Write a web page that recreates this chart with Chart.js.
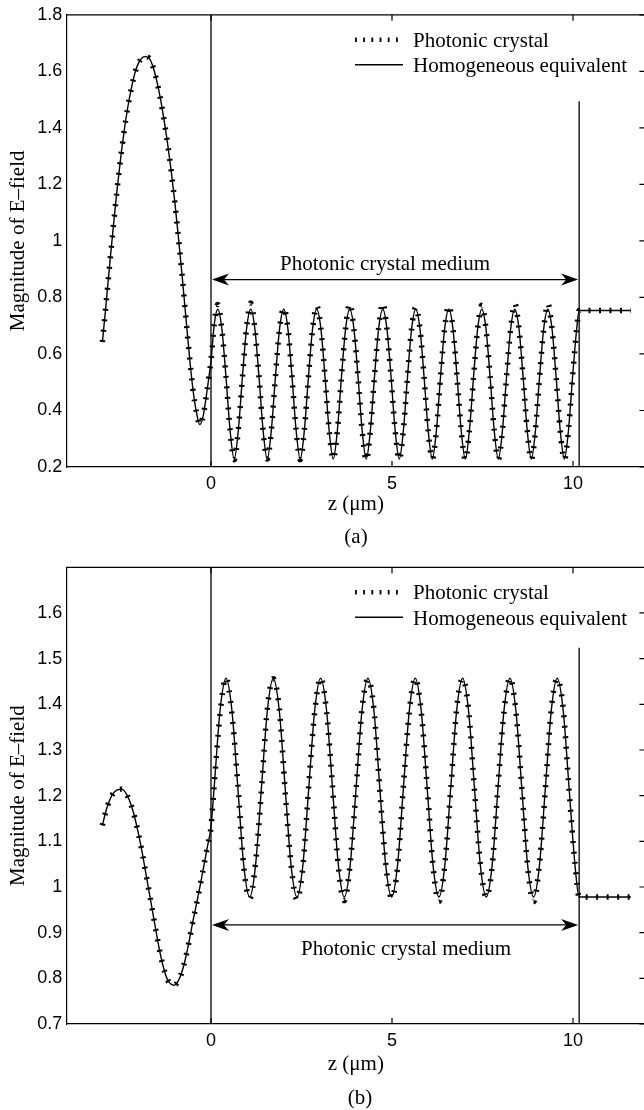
<!doctype html>
<html lang="en">
<head>
<meta charset="utf-8">
<script src="https://cdn.jsdelivr.net/npm/chart.js"></script>
<style>
  html, body { margin: 0; padding: 0; background: #fff; overflow: hidden; }
  canvas { display: block; }
</style>
</head>
<body>
<canvas id="chartA" width="648" height="552"></canvas>
<canvas id="chartB" width="648" height="558"></canvas>

<script>
  const SERIF = '"Liberation Serif", "Times New Roman", Times, serif';
  const SANS = '"Liberation Sans", Arial, Helvetica, sans-serif';

  // slab faces (um)
  const slabEdges = [0, 10.17];
  const xTicks = [0, 5, 10];

  // ---- (a) ----
  const zA = [
    -3.0, -2.9, -2.8, -2.7, -2.6, -2.5, -2.4, -2.3, -2.2, -2.1, -2.0, -1.9, -1.82, -1.7, -1.6, -1.5,
    -1.4, -1.3, -1.2, -1.1, -1.0, -0.9, -0.8, -0.7, -0.6, -0.5, -0.4, -0.31, -0.22, -0.12, -0.05,
    0, 0.09,
    0.185, 0.299, 0.413, 0.527, 0.641, 0.755, 0.869, 0.983,
    1.097, 1.211, 1.325, 1.439, 1.553, 1.667, 1.781, 1.895,
    2.009, 2.123, 2.237, 2.351, 2.465, 2.579, 2.693, 2.807,
    2.921, 3.035, 3.149, 3.263, 3.377, 3.491, 3.605, 3.719,
    3.833, 3.947, 4.061, 4.175, 4.289, 4.403, 4.517, 4.631,
    4.745, 4.859, 4.973, 5.087, 5.201, 5.315, 5.429, 5.543,
    5.657, 5.771, 5.885, 5.999, 6.113, 6.227, 6.341, 6.455,
    6.569, 6.683, 6.797, 6.911, 7.025, 7.139, 7.253, 7.367,
    7.481, 7.595, 7.709, 7.823, 7.937, 8.051, 8.165, 8.279,
    8.393, 8.507, 8.621, 8.735, 8.849, 8.963, 9.077, 9.191,
    9.305, 9.419, 9.533, 9.647, 9.761, 9.875, 9.989, 10.103,
    10.17, 11.6
  ];
  const homogA = [
    0.642, 0.775, 0.915, 1.048, 1.175, 1.288, 1.388, 1.472, 1.540, 1.595, 1.630, 1.648, 1.652, 1.645, 1.615, 1.567,
    1.505, 1.430, 1.345, 1.248, 1.138, 1.012, 0.880, 0.738, 0.598, 0.476, 0.392, 0.350, 0.378, 0.460, 0.525,
    0.575, 0.705,
    0.758, 0.690, 0.520, 0.330, 0.228, 0.330, 0.520, 0.690,
    0.758, 0.690, 0.520, 0.330, 0.228, 0.330, 0.520, 0.690,
    0.758, 0.690, 0.520, 0.330, 0.228, 0.330, 0.520, 0.690,
    0.758, 0.690, 0.520, 0.330, 0.228, 0.330, 0.520, 0.690,
    0.758, 0.690, 0.520, 0.330, 0.228, 0.330, 0.520, 0.690,
    0.758, 0.690, 0.520, 0.330, 0.228, 0.330, 0.520, 0.690,
    0.758, 0.690, 0.520, 0.330, 0.228, 0.330, 0.520, 0.690,
    0.758, 0.690, 0.520, 0.330, 0.228, 0.330, 0.520, 0.690,
    0.758, 0.690, 0.520, 0.330, 0.228, 0.330, 0.520, 0.690,
    0.758, 0.690, 0.520, 0.330, 0.228, 0.330, 0.520, 0.690,
    0.758, 0.690, 0.520, 0.330, 0.228, 0.330, 0.520, 0.690,
    0.754, 0.754
  ];
  const crystalA = [
    0.642, 0.775, 0.915, 1.048, 1.175, 1.288, 1.388, 1.472, 1.540, 1.595, 1.630, 1.648, 1.652, 1.645, 1.615, 1.567,
    1.505, 1.430, 1.345, 1.248, 1.138, 1.012, 0.880, 0.738, 0.598, 0.476, 0.392, 0.350, 0.378, 0.460, 0.525,
    0.575, 0.705,
    0.775, 0.688, 0.522, 0.330, 0.226, 0.332, 0.518, 0.692,
    0.780, 0.690, 0.520, 0.328, 0.228, 0.330, 0.522, 0.690,
    0.762, 0.692, 0.518, 0.330, 0.226, 0.330, 0.520, 0.688,
    0.770, 0.690, 0.520, 0.332, 0.228, 0.328, 0.520, 0.690,
    0.778, 0.688, 0.520, 0.330, 0.224, 0.330, 0.522, 0.690,
    0.780, 0.690, 0.518, 0.330, 0.226, 0.332, 0.520, 0.692,
    0.765, 0.690, 0.520, 0.328, 0.228, 0.330, 0.520, 0.690,
    0.770, 0.692, 0.520, 0.330, 0.226, 0.330, 0.518, 0.690,
    0.772, 0.690, 0.522, 0.330, 0.228, 0.330, 0.520, 0.690,
    0.778, 0.690, 0.520, 0.332, 0.226, 0.330, 0.520, 0.688,
    0.778, 0.690, 0.520, 0.330, 0.226, 0.330, 0.520, 0.690,
    0.754, 0.754
  ];
  const yTicksA = [0.2, 0.4, 0.6, 0.8, 1, 1.2, 1.4, 1.6, 1.8];

  // ---- (b) ----
  const zB = [
    -3.0, -2.9, -2.8, -2.7, -2.6, -2.47, -2.4, -2.3, -2.2, -2.1, -2.0, -1.9, -1.8, -1.7, -1.6,
    -1.5, -1.4, -1.3, -1.2, -1.1, -1.02, -0.9, -0.8, -0.7, -0.6, -0.5, -0.4, -0.3, -0.2, -0.1,
    0, 0.087, 0.251,
    0.414, 0.577, 0.741, 0.904, 1.068, 1.231, 1.394, 1.558,
    1.721, 1.885, 2.048, 2.211, 2.375, 2.538, 2.702, 2.865,
    3.028, 3.192, 3.355, 3.519, 3.682, 3.845, 4.009, 4.172,
    4.336, 4.499, 4.662, 4.826, 4.989, 5.153, 5.316, 5.479,
    5.643, 5.806, 5.970, 6.133, 6.296, 6.460, 6.623, 6.787,
    6.950, 7.113, 7.277, 7.440, 7.604, 7.767, 7.930, 8.094,
    8.257, 8.421, 8.584, 8.747, 8.911, 9.074, 9.238, 9.401,
    9.564, 9.728, 9.891, 10.055,
    10.17, 11.6
  ];
  const homogB = [
    1.135, 1.167, 1.190, 1.205, 1.212, 1.214, 1.211, 1.198, 1.178, 1.150, 1.115, 1.075, 1.030, 0.985, 0.940,
    0.895, 0.853, 0.820, 0.797, 0.787, 0.785, 0.795, 0.815, 0.845, 0.883, 0.925, 0.963, 1.003, 1.045, 1.088,
    1.132, 1.218, 1.387,
    1.457, 1.387, 1.218, 1.048, 0.978, 1.048, 1.218, 1.387,
    1.457, 1.387, 1.218, 1.048, 0.978, 1.048, 1.218, 1.387,
    1.457, 1.387, 1.218, 1.048, 0.978, 1.048, 1.218, 1.387,
    1.457, 1.387, 1.218, 1.048, 0.978, 1.048, 1.218, 1.387,
    1.457, 1.387, 1.218, 1.048, 0.978, 1.048, 1.218, 1.387,
    1.457, 1.387, 1.218, 1.048, 0.978, 1.048, 1.218, 1.387,
    1.457, 1.387, 1.218, 1.048, 0.978, 1.048, 1.218, 1.387,
    1.457, 1.387, 1.218, 1.048,
    0.978, 0.978
  ];
  const crystalB = [
    1.135, 1.167, 1.190, 1.205, 1.212, 1.214, 1.211, 1.198, 1.178, 1.150, 1.115, 1.075, 1.030, 0.985, 0.940,
    0.895, 0.853, 0.820, 0.797, 0.787, 0.785, 0.795, 0.815, 0.845, 0.883, 0.925, 0.963, 1.003, 1.045, 1.088,
    1.132, 1.222, 1.380,
    1.458, 1.380, 1.225, 1.045, 0.975, 1.052, 1.212, 1.392,
    1.456, 1.392, 1.210, 1.050, 0.972, 1.045, 1.224, 1.383,
    1.458, 1.385, 1.222, 1.044, 0.970, 1.052, 1.215, 1.390,
    1.455, 1.390, 1.214, 1.052, 0.976, 1.044, 1.222, 1.385,
    1.457, 1.384, 1.222, 1.046, 0.968, 1.050, 1.214, 1.391,
    1.456, 1.391, 1.213, 1.051, 0.978, 1.045, 1.223, 1.384,
    1.458, 1.386, 1.220, 1.045, 0.968, 1.052, 1.214, 1.390,
    1.456, 1.392, 1.212, 1.052,
    0.978, 0.978
  ];
  const yTicksB = [0.7, 0.8, 0.9, 1, 1.1, 1.2, 1.3, 1.4, 1.5, 1.6];

  function pairs(xs, ys) {
    return xs.map((v, i) => ({ x: v, y: ys[i] }));
  }

  // box edges, inward ticks, double arrow, captions and the legend
  const decorPlugin = {
    id: 'decor',
    afterDraw(chart, args, o) {
      const { ctx, chartArea: a, scales: { x, y } } = chart;
      ctx.save();
      ctx.strokeStyle = '#000';
      ctx.fillStyle = '#000';
      ctx.lineWidth = 1.2;
      ctx.beginPath();
      ctx.moveTo(a.left, a.top);
      ctx.lineTo(a.right, a.top);
      ctx.lineTo(a.right, a.bottom);
      ctx.stroke();

      const tl = 6;
      ctx.beginPath();
      x.ticks.forEach(t => {
        const px = x.getPixelForValue(t.value);
        ctx.moveTo(px, a.bottom); ctx.lineTo(px, a.bottom - tl);
        ctx.moveTo(px, a.top); ctx.lineTo(px, a.top + tl);
      });
      y.ticks.forEach(t => {
        const py = y.getPixelForValue(t.value);
        ctx.moveTo(a.right, py); ctx.lineTo(a.right - tl, py);
      });
      ctx.stroke();

      // double arrow across the slab
      const ay = y.getPixelForValue(o.arrowY);
      const x0 = x.getPixelForValue(slabEdges[0]) + 1;
      const x1 = x.getPixelForValue(slabEdges[1]) - 1;
      ctx.lineWidth = 1.2;
      ctx.beginPath();
      ctx.moveTo(x0 + 10, ay); ctx.lineTo(x1 - 10, ay);
      ctx.stroke();
      const head = (tip, dir) => {
        ctx.beginPath();
        ctx.moveTo(tip, ay);
        ctx.lineTo(tip - dir * 17, ay - 6);
        ctx.lineTo(tip - dir * 12, ay);
        ctx.lineTo(tip - dir * 17, ay + 6);
        ctx.closePath();
        ctx.fill();
      };
      head(x0, -1);
      head(x1, 1);

      ctx.font = '21px ' + SERIF;
      ctx.textAlign = 'center';
      ctx.textBaseline = 'alphabetic';
      ctx.fillText(o.mediumText, o.mediumX, ay + o.mediumDy);
      ctx.fillText(o.caption, o.captionX, o.captionY);

      // legend
      ctx.textAlign = 'left';
      chart.data.datasets.filter(d => d.inLegend).forEach((d, i) => {
        const ly = a.top + 25 + i * 25;
        ctx.lineWidth = d.borderDash ? 4.5 : 1.4;
        ctx.lineCap = 'butt';
        ctx.setLineDash(d.borderDash ? [1.8, 6.4] : []);
        ctx.beginPath();
        ctx.moveTo(355, ly); ctx.lineTo(403, ly);
        ctx.stroke();
        ctx.setLineDash([]);
        ctx.fillText(d.label, 413, a.top + 31.7 + i * 25.8);
      });
      ctx.restore();
    }
  };

  function makeChart(id, cfg) {
    const edge = { borderColor: '#000', borderWidth: 1.3, pointRadius: 0, showLine: true, tension: 0 };
    return new Chart(document.getElementById(id), {
      type: 'scatter',
      data: {
        datasets: [
          {
            label: 'Photonic crystal', data: pairs(cfg.z, cfg.crystal), showLine: true,
            borderColor: '#000', borderWidth: 5.5, borderDash: [2, 8.5], borderCapStyle: 'butt',
            pointRadius: 0, cubicInterpolationMode: 'monotone', inLegend: true
          },
          {
            label: 'Homogeneous equivalent', data: pairs(cfg.z, cfg.homog), showLine: true,
            borderColor: '#000', borderWidth: 1.4, pointRadius: 0,
            cubicInterpolationMode: 'monotone', inLegend: true
          },
          Object.assign({ label: 'front face', data: [{ x: slabEdges[0], y: cfg.yMin }, { x: slabEdges[0], y: cfg.yMax }] }, edge),
          Object.assign({ label: 'back face', data: [{ x: slabEdges[1], y: cfg.yMin }, { x: slabEdges[1], y: cfg.backTop }] }, edge)
        ]
      },
      options: {
        responsive: false,
        animation: false,
        events: [],
        layout: { padding: { top: cfg.padTop, right: 2.6, left: 0, bottom: 0 } },
        scales: {
          x: {
            type: 'linear', min: -4, max: 12,
            afterBuildTicks: s => { s.ticks = xTicks.map(v => ({ value: v })); },
            afterFit: s => { s.height = cfg.xAxisH; },
            grid: { display: false, drawTicks: false },
            border: { display: true, color: '#000', width: 1.2 },
            ticks: { font: { family: SANS, size: 18 }, color: '#000', padding: 6, autoSkip: false, maxRotation: 0 },
            title: {
              display: true, text: 'z (μm)', color: '#000',
              font: { family: SERIF, size: 21 }, padding: { top: 0, bottom: cfg.xTitlePad }
            }
          },
          y: {
            type: 'linear', min: cfg.yMin, max: cfg.yMax,
            afterBuildTicks: s => { s.ticks = cfg.yTicks.map(v => ({ value: v })); },
            afterFit: s => { s.width = 66.2; },
            grid: { display: false, drawTicks: false },
            border: { display: true, color: '#000', width: 1.2 },
            ticks: {
              font: { family: SANS, size: 18 }, color: '#000', padding: 4, autoSkip: false,
              callback: v => String(+(+v).toFixed(2))
            },
            title: {
              display: true, text: 'Magnitude of E–field', color: '#000',
              font: { family: SERIF, size: 21 }, padding: { top: 5.4, bottom: 0 }
            }
          }
        },
        plugins: {
          legend: { display: false },
          tooltip: { enabled: false },
          decor: cfg.decor
        }
      },
      plugins: [decorPlugin]
    });
  }

  makeChart('chartA', {
    z: zA, homog: homogA, crystal: crystalA, yTicks: yTicksA,
    yMin: 0.2, yMax: 1.8, backTop: 1.494,
    padTop: 11, xAxisH: 85, xTitlePad: 35.4,
    decor: {
      arrowY: 0.863, mediumText: 'Photonic crystal medium', mediumX: 385, mediumDy: -10,
      caption: '(a)', captionX: 356, captionY: 543
    }
  });

  makeChart('chartB', {
    z: zB, homog: homogB, crystal: crystalB, yTicks: yTicksB,
    yMin: 0.7, yMax: 1.7, backTop: 1.524,
    padTop: 15.3, xAxisH: 86, xTitlePad: 33.4,
    decor: {
      arrowY: 0.917, mediumText: 'Photonic crystal medium', mediumX: 406, mediumDy: 30,
      caption: '(b)', captionX: 360, captionY: 552
    }
  });
</script>
</body>
</html>
